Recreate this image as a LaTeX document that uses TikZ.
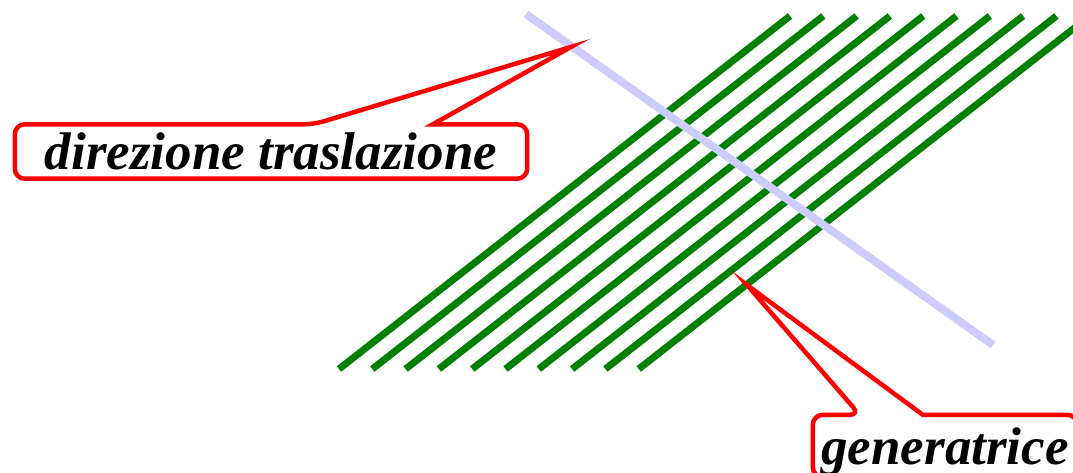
\documentclass[tikz,border=0pt]{standalone}
\usepackage{fontspec}
\setmainfont{Liberation Serif}
\usetikzlibrary{calc}
\definecolor{figGreen}{RGB}{0,128,0}
\definecolor{figLavender}{RGB}{204,204,255}

\begin{document}
\begin{tikzpicture}[x=1pt, y=-1pt,
  genLine/.style={draw=figGreen, line width=7pt},
  dirLine/.style={draw=figLavender, line width=8pt},
  bubble/.style={draw=red, line width=4.5pt},
  bubbleText/.style={font=\fontsize{53}{60}\selectfont\bfseries\itshape, inner sep=0pt, text height=40pt, text depth=4pt, minimum height=54pt}]
  \useasboundingbox (0,0) rectangle (1073,473);
  \clip (0,0) rectangle (1073,473);
  % generatrici
  \foreach \i in {0,...,9}
    \draw[genLine] ($(339,369)+(\i*33.3,0)$) -- ++(451,-353);
  % direzione di traslazione
  \draw[dirLine] (526,14) -- (993,345);
  % fumetti
  \node[bubbleText, minimum width=512pt] (dirBox) at (271,151.5) {direzione traslazione};
  \coordinate (dirTip) at (571,47);
  \draw[bubble] (dirBox.west) [rounded corners=10pt] -- (dirBox.north west) -- ($(dirBox.north west)+(299,0)$) [sharp corners] -- (dirTip) -- ($(dirBox.north west)+(418,0)$) [rounded corners=10pt] -- (dirBox.north east) -- (dirBox.south east) -- (dirBox.south west) -- cycle;
  \node[bubbleText, minimum width=264pt, minimum height=62pt] (genBox) at (945,446) {generatrice};
  \coordinate (genTip) at (747,285);
  \draw[bubble] (genBox.west) [rounded corners=10pt] -- (genBox.north west) -- ($(genBox.north west)+(47,0)$) [sharp corners] -- (genTip) -- ($(genBox.north west)+(110,0)$) [rounded corners=10pt] -- (genBox.north east) -- (genBox.south east) -- (genBox.south west) -- cycle;
\end{tikzpicture}
\end{document}
